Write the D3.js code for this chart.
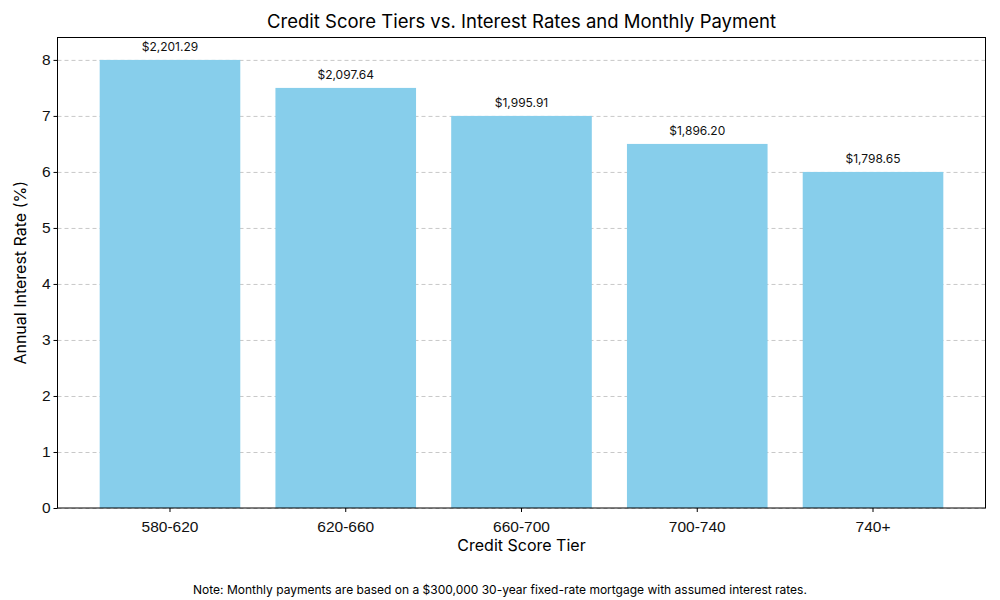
<!DOCTYPE html>
<html>
<head>
<meta charset="utf-8">
<script src="https://cdn.jsdelivr.net/npm/d3@7"></script>
<style>
  body { margin: 0; background: #fff; }
  svg { font-family: Inter, "Open Sans", sans-serif; }
  .grid line { stroke: #c8c8c8; stroke-dasharray: 4 3; }
  .grid path { display: none; }
</style>
</head>
<body>
<svg width="1000" height="600"></svg>
<script>
const tiers = ['580-620', '620-660', '660-700', '700-740', '740+']
const rates = [8.0, 7.5, 7.0, 6.5, 6.0]
const payments = ['$2,201.29', '$2,097.64', '$1,995.91', '$1,896.20', '$1,798.65']
const yTicks = [0, 1, 2, 3, 4, 5, 6, 7, 8]

const margin = { top: 37.5, right: 14.5, bottom: 92, left: 57.5 }
const width = 1000 - margin.left - margin.right
const height = 600 - margin.top - margin.bottom

const svg = d3.select('svg')
const chart = svg.append('g')
  .attr('transform', `translate(${margin.left}, ${margin.top})`)

// x axis - tiers
const xScale = d3.scaleBand()
  .domain(tiers)
  .range([0, width])
  .paddingInner(0.2)
  .paddingOuter(0.24)

// y axis - rate
const yScale = d3.scaleLinear()
  .domain([0, 8.4])
  .range([height, 0])

// grid lines
chart.append('g')
  .attr('class', 'grid')
  .call(d3.axisLeft(yScale).tickValues(yTicks).tickSize(-width).tickFormat(''))

// bars
chart.selectAll('.bar')
  .data(tiers)
  .enter()
  .append('rect')
  .attr('x', d => xScale(d))
  .attr('y', (d, i) => yScale(rates[i]))
  .attr('width', xScale.bandwidth())
  .attr('height', (d, i) => height - yScale(rates[i]))
  .style('fill', '#87ceeb')

// payment labels
chart.selectAll('.lbl')
  .data(tiers)
  .enter()
  .append('text')
  .attr('x', d => xScale(d) + xScale.bandwidth() / 2)
  .attr('y', (d, i) => yScale(rates[i]) - 9)
  .attr('text-anchor', 'middle')
  .style('font-size', '12px')
  .style('fill', '#111')
  .text((d, i) => payments[i])

// axes
const xAxis = chart.append('g')
  .attr('transform', `translate(0, ${height})`)
  .call(d3.axisBottom(xScale).tickSize(4).tickSizeOuter(0))
xAxis.selectAll('text').style('font-size', '15.5px').attr('dy', '1.1em').style('fill', '#111')

const yAxis = chart.append('g')
  .call(d3.axisLeft(yScale).tickValues(yTicks).tickFormat(d3.format('d')).tickSize(4).tickSizeOuter(0))
yAxis.selectAll('text').style('font-size', '15.5px').style('fill', '#111')
chart.selectAll('.domain').remove()

// frame
chart.append('rect')
  .attr('width', width)
  .attr('height', height)
  .style('fill', 'none')
  .style('stroke', '#000')
  .style('stroke-width', 1)

// title
svg.append('text')
  .attr('x', margin.left + width / 2)
  .attr('y', 28)
  .attr('text-anchor', 'middle')
  .style('font-size', '18.5px')
  .text('Credit Score Tiers vs. Interest Rates and Monthly Payment')

// label bottom
svg.append('text')
  .attr('x', margin.left + width / 2)
  .attr('y', 551)
  .attr('text-anchor', 'middle')
  .style('font-size', '16px')
  .text('Credit Score Tier')

// label left
svg.append('text')
  .attr('transform', `translate(26, ${margin.top + height / 2}) rotate(-90)`)
  .attr('text-anchor', 'middle')
  .style('font-size', '16px')
  .text('Annual Interest Rate (%)')

// note
svg.append('text')
  .attr('x', 500)
  .attr('y', 594)
  .attr('text-anchor', 'middle')
  .style('font-size', '12px')
  .text('Note: Monthly payments are based on a $300,000 30-year fixed-rate mortgage with assumed interest rates.')
</script>
</body>
</html>
